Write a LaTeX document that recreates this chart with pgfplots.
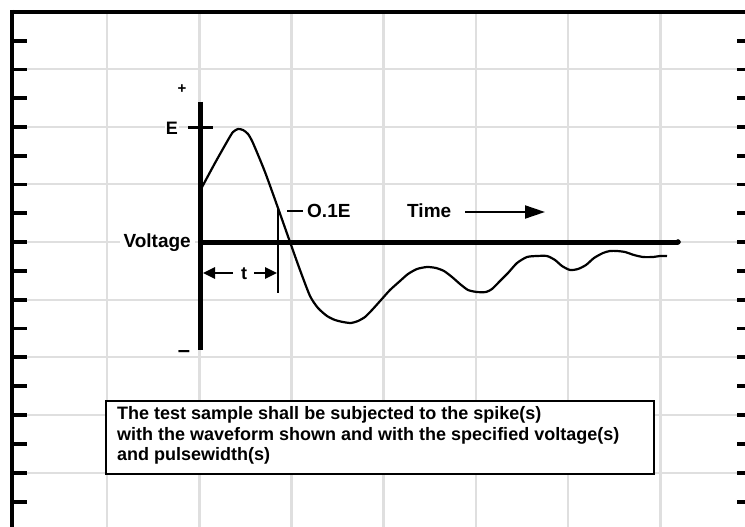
\documentclass[border=0pt]{standalone}
\usepackage{pgfplots}
\pgfplotsset{compat=1.18}
\usepackage{fontspec}
\setmainfont{Liberation Sans}
\usetikzlibrary{arrows.meta}
\begin{document}
\begin{tikzpicture}
\begin{axis}[name=ax, width=745pt, height=527pt, scale only axis,
  xmin=0, xmax=745, ymin=0, ymax=527, y dir=reverse,
  axis line style={draw=none}, tick style={draw=none},
  xtick={107,199.5,291.5,383.5,476,568,660.5},
  ytick={69,127,184,242,300,357,415,473},
  xticklabels={}, yticklabels={},
  grid=major, major grid style={gray!25, line width=2.5pt}]
% blank margin outside the frame
\fill[white] (axis cs:0,0) rectangle (axis cs:11,527);
\fill[white] (axis cs:0,0) rectangle (axis cs:745,11);
% frame
\addplot[line width=4pt, black] coordinates {(10,12) (745,12)};
\addplot[line width=4pt, black] coordinates {(12,10) (12,527)};
\pgfplotsinvokeforeach{41,69.5,98,127,156,184.5,213,242,271,300,328.5,357,386,415,444,473,502}{
  \draw[line width=3.5pt] (axis cs:12,#1) -- (axis cs:27,#1);
  \draw[line width=3.5pt] (axis cs:737,#1) -- (axis cs:745,#1);
}
% labels with white background
\node[anchor=base east, inner ysep=2pt, inner xsep=4pt, fill=white, font=\fontsize{19}{22}\selectfont\bfseries] at (axis cs:195,247.5) {Voltage};
\node[anchor=base east, inner sep=1pt, fill=white, font=\fontsize{18}{22}\selectfont\bfseries] at (axis cs:179,135) {E};
% axes of the sketch
\addplot[line width=5pt, black] coordinates {(200,102) (200,350)};
\addplot[line width=5pt, black] coordinates {(201,242) (678,242)};
\addplot[only marks, mark=*, mark size=2.5pt, black] coordinates {(678,242)};
\addplot[line width=3pt, black] coordinates {(188,127) (213,127)};
\addplot[line width=2.5pt, black] coordinates {(278,208) (278,293)};
\addplot[line width=2.5pt, black] coordinates {(287,211) (303,211)};
% waveform
\addplot[line width=2.2pt, black, smooth, tension=0.4] coordinates {
(201,189) (215,163) (228,140) (233,132) (238,129) (243,130) (248,134) (253,143)
(265,172) (278,208) (290,242) (300,270) (310,296) (318,308) (327,316) (335,320)
(343,322) (351,323) (358,321) (365,317) (372,310) (381,300) (390,290) (400,281)
(408,274) (417,269) (427,267) (436,268) (444,271) (452,277) (460,284) (468,290)
(477,292) (486,292) (492,289) (500,281) (508,273) (517,263) (527,257) (537,256)
(547,256) (555,260) (562,266) (570,270) (578,269) (586,265) (594,258) (603,253)
(610,251) (617,251) (625,252) (634,255) (643,257) (653,257) (660,256) (667,256)};
% arrows
\draw[line width=2.5pt, -{Triangle[length=12pt,width=11pt]}] (axis cs:233,273) -- (axis cs:203,273);
\draw[line width=2.5pt, -{Triangle[length=12pt,width=11pt]}] (axis cs:254,273) -- (axis cs:277,273);
\draw[line width=2pt, -{Triangle[length=20pt,width=13pt]}] (axis cs:465,212) -- (axis cs:545,212);
% labels
\node[anchor=center, inner sep=0pt, font=\fontsize{15}{16}\selectfont\bfseries] at (axis cs:182,89) {+};
\node[anchor=center, inner sep=0pt, font=\fontsize{22}{24}\selectfont\bfseries] at (axis cs:184,354) {–};
\node[anchor=base west, inner sep=0pt, font=\fontsize{19}{22}\selectfont\bfseries] at (axis cs:307,217.5) {O.1E};
\node[anchor=base west, inner sep=0pt, font=\fontsize{19}{22}\selectfont\bfseries] at (axis cs:407,217.5) {Time};
\node[anchor=base, inner sep=0pt, font=\fontsize{18}{22}\selectfont\bfseries] at (axis cs:244,279) {t};
% text box
\draw[line width=2pt, fill=white] (axis cs:106,401) rectangle (axis cs:654,474);
\node[anchor=base west, inner sep=0pt, font=\fontsize{18}{21}\selectfont\bfseries] at (axis cs:117,419.5) {The test sample shall be subjected to the spike(s)};
\node[anchor=base west, inner sep=0pt, font=\fontsize{18}{21}\selectfont\bfseries] at (axis cs:117,440) {with the waveform shown and with the specified voltage(s)};
\node[anchor=base west, inner sep=0pt, font=\fontsize{18}{21}\selectfont\bfseries] at (axis cs:117,460.5) {and pulsewidth(s)};
\end{axis}
\pgfresetboundingbox
\useasboundingbox (ax.south west) rectangle (ax.north east);
\end{tikzpicture}
\end{document}
